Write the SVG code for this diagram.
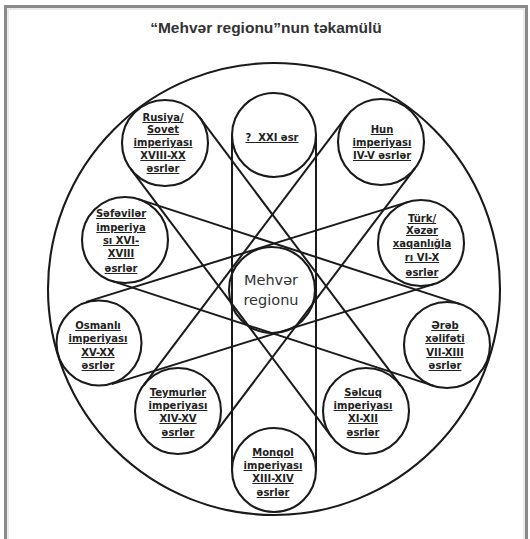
<svg xmlns="http://www.w3.org/2000/svg" width="530" height="539" viewBox="0 0 530 539">
<style>
.ring{fill:none;stroke:#1a1a1a;stroke-width:2.1}
.con line{stroke:#1a1a1a;stroke-width:2;fill:none}
.lbl{font-family:"DejaVu Sans",Verdana,sans-serif;font-weight:bold;font-size:10px;fill:#222;text-anchor:middle;text-decoration:underline}
.ctr{font-family:"DejaVu Sans",Verdana,sans-serif;font-size:14.5px;fill:#333;text-anchor:middle}
.title{font-family:"Liberation Sans",Arial,sans-serif;font-weight:bold;font-size:15.5px;fill:#333;text-anchor:middle}
</style>
<rect x="0" y="0" width="530" height="539" fill="#fff"/>
<rect x="5.5" y="6.5" width="521" height="540" fill="none" stroke="#8a8a8a" stroke-width="3"/>
<rect x="8" y="9" width="516" height="540" fill="none" stroke="#d8d8d8" stroke-width="1"/>
<text class="title" x="266" y="33">“Mehvər regionu”nun təkamülü</text>
<circle class="ring" cx="274" cy="289" r="226"/>
<g id="connectors" class="con">
<line x1="232" y1="135" x2="232" y2="470"/>
<line x1="316" y1="135" x2="316" y2="470"/>
<line x1="199.4" y1="117.2" x2="400.4" y2="385.2"/>
<line x1="130.6" y1="168.8" x2="331.6" y2="436.8"/>
<line x1="415.3" y1="167.9" x2="212.3" y2="436.9"/>
<line x1="346.7" y1="116.1" x2="143.7" y2="385.1"/>
<line x1="111.7" y1="280.9" x2="433.7" y2="385.9"/>
<line x1="138.3" y1="199.1" x2="460.3" y2="304.1"/>
<line x1="433.8" y1="284.1" x2="111.8" y2="384.1"/>
<line x1="408.3" y1="201.9" x2="86.3" y2="301.9"/>
</g>
<g id="center">
<circle class="ring" cx="272" cy="290" r="43"/>
<text class="ctr" x="271" y="285">Mehvər</text>
<text class="ctr" x="271" y="305">regionu</text>
</g>
<g id="xxi">
<circle class="ring" cx="274" cy="135" r="42"/>
<text class="lbl" x="272" y="141" xml:space="preserve">?  XXI əsr</text>
</g>
<g id="hun">
<circle class="ring" cx="381" cy="142" r="43"/>
<text class="lbl" x="382" y="133">Hun</text>
<text class="lbl" x="382" y="146">imperiyası</text>
<text class="lbl" x="382" y="159">IV-V əsrlər</text>
</g>
<g id="turk">
<circle class="ring" cx="421" cy="243" r="43"/>
<text class="lbl" x="422" y="222">Türk/</text>
<text class="lbl" x="422" y="234">Xəzər</text>
<text class="lbl" x="422" y="247">xaqanlığla</text>
<text class="lbl" x="422" y="261">rı VI-X</text>
<text class="lbl" x="422" y="276">əsrlər</text>
</g>
<g id="ereb">
<circle class="ring" cx="447" cy="345" r="43"/>
<text class="lbl" x="445" y="329">Ərəb</text>
<text class="lbl" x="445" y="342">xəlifəti</text>
<text class="lbl" x="445" y="356">VII-XIII</text>
<text class="lbl" x="445" y="369">əsrlər</text>
</g>
<g id="selcuq">
<circle class="ring" cx="366" cy="411" r="43"/>
<text class="lbl" x="363" y="396">Səlcuq</text>
<text class="lbl" x="363" y="409">imperiyası</text>
<text class="lbl" x="363" y="422">XI-XII</text>
<text class="lbl" x="363" y="436">əsrlər</text>
</g>
<g id="monqol">
<circle class="ring" cx="274" cy="470" r="42"/>
<text class="lbl" x="273" y="456">Monqol</text>
<text class="lbl" x="273" y="469">imperiyası</text>
<text class="lbl" x="273" y="482">XIII-XIV</text>
<text class="lbl" x="273" y="496">əsrlər</text>
</g>
<g id="teymurler">
<circle class="ring" cx="178" cy="411" r="43"/>
<text class="lbl" x="178" y="396">Teymurlər</text>
<text class="lbl" x="178" y="409">imperiyası</text>
<text class="lbl" x="178" y="422">XIV-XV</text>
<text class="lbl" x="178" y="436">əsrlər</text>
</g>
<g id="osmanli">
<circle class="ring" cx="99" cy="343" r="42.5"/>
<text class="lbl" x="98" y="329">Osmanlı</text>
<text class="lbl" x="98" y="342">imperiyası</text>
<text class="lbl" x="98" y="356">XV-XX</text>
<text class="lbl" x="98" y="369">əsrlər</text>
</g>
<g id="sefeviler">
<circle class="ring" cx="125" cy="240" r="43"/>
<text class="lbl" x="121" y="217">Səfəvilər</text>
<text class="lbl" x="121" y="231">imperiya</text>
<text class="lbl" x="121" y="244">sı XVI-</text>
<text class="lbl" x="121" y="257">XVIII</text>
<text class="lbl" x="121" y="272">əsrlər</text>
</g>
<g id="rusiya">
<circle class="ring" cx="165" cy="143" r="43"/>
<text class="lbl" x="163" y="121">Rusiya/</text>
<text class="lbl" x="163" y="133">Sovet</text>
<text class="lbl" x="163" y="146">imperiyası</text>
<text class="lbl" x="163" y="159">XVIII-XX</text>
<text class="lbl" x="163" y="172">əsrlər</text>
</g>
</svg>
